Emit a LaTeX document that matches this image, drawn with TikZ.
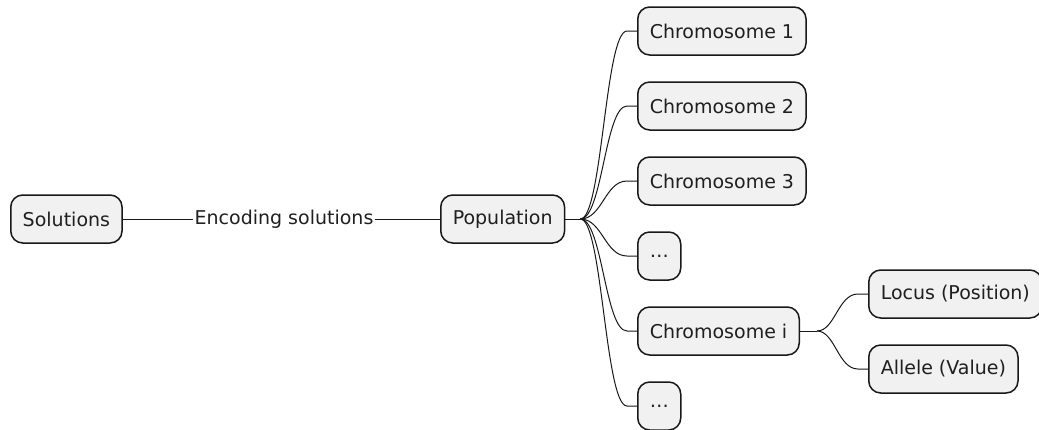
\documentclass[tikz,border=0pt]{standalone}
\usepackage{fontspec}
\setmainfont{DejaVu Sans}
\usetikzlibrary{calc}
\definecolor{boxfill}{HTML}{F1F1F1}
\definecolor{boxline}{HTML}{181818}
\tikzset{
  mmfont/.style={font=\fontsize{19pt}{22pt}\selectfont, text=black!88},
  mmbox/.style={draw=boxline, fill=boxfill, line width=1.5pt, rounded corners=12pt,
    minimum height=48pt, inner xsep=12pt, inner ysep=0pt, anchor=west, mmfont},
  conn/.style={draw=boxline, line width=1pt},
}
\begin{document}
\begin{tikzpicture}[x=1pt,y=-1pt]
\useasboundingbox (0,0) rectangle (1039,429);
\node[mmbox] (sol) at (10,219) {Solutions};
\node[mmfont, inner xsep=1pt, inner ysep=0pt] (enc) at (284,219) {Encoding solutions};
\node[mmbox] (pop) at (440,219) {Population};
\node[mmbox] (c1) at (637,31) {Chromosome 1};
\node[mmbox] (c2) at (637,106) {Chromosome 2};
\node[mmbox] (c3) at (637,181) {Chromosome 3};
\node[mmbox] (d1) at (637,256) {\dots};
\node[mmbox] (ci) at (637,331) {Chromosome i};
\node[mmbox] (d2) at (637,406) {\dots};
\node[mmbox] (loc) at (868,294) {Locus (Position)};
\node[mmbox] (all) at (868,369) {Allele (Value)};
\draw[conn] (sol.east) -- (enc.west);
\draw[conn] (enc.east) -- (pop.west);
\coordinate (pb) at ($(pop.east)+(15,0)$);
\draw[conn] (pop.east) -- (pb);
\foreach \c in {c1,c2,c3,d1,ci,d2}{
  \draw[conn] (pb) .. controls ($(pb)+(22,0)$) and ($(\c.west)+(-32,0)$) .. ($(\c.west)+(-10,0)$) -- (\c.west);
}
\coordinate (cb) at ($(ci.east)+(17,0)$);
\draw[conn] (ci.east) -- (cb);
\foreach \c in {loc,all}{
  \draw[conn] (cb) .. controls ($(cb)+(18,0)$) and ($(\c.west)+(-30,0)$) .. ($(\c.west)+(-10,0)$) -- (\c.west);
}
\end{tikzpicture}
\end{document}
